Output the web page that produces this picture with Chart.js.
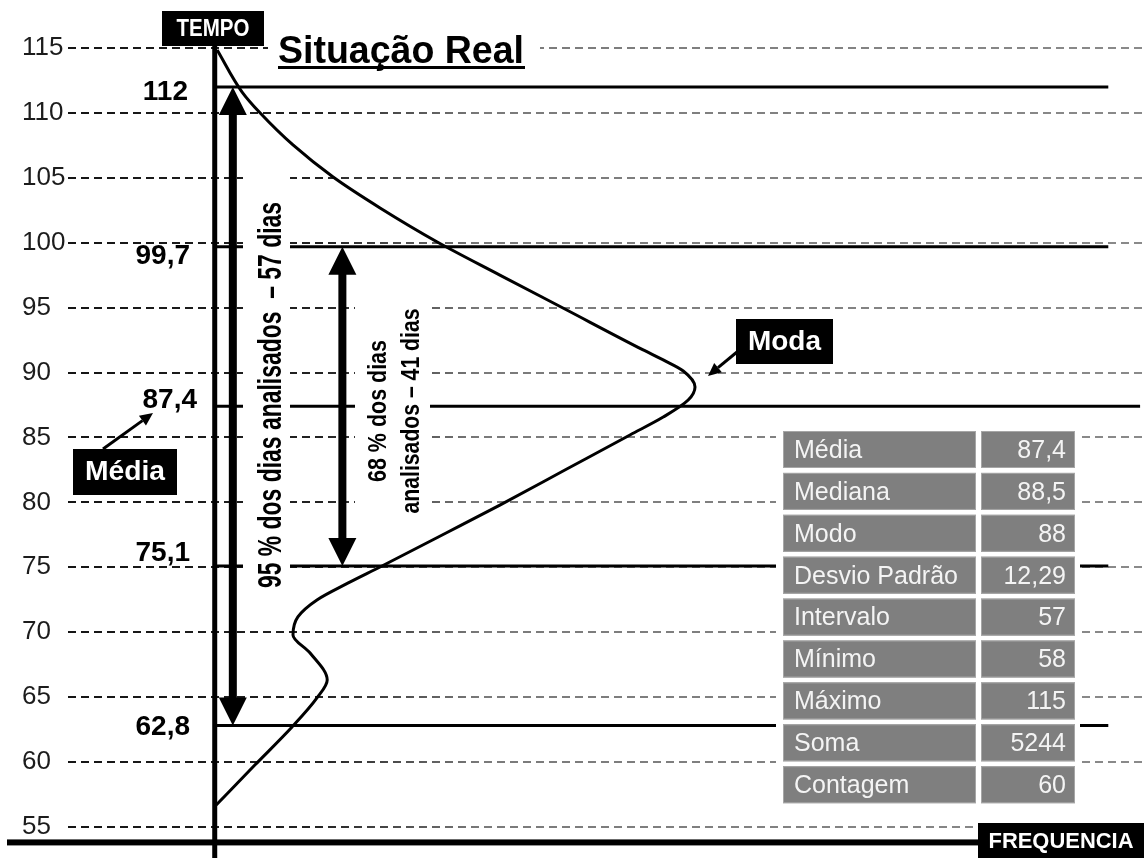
<!DOCTYPE html>
<html>
<head>
<meta charset="utf-8">
<title>Situação Real</title>
<script src="https://cdn.jsdelivr.net/npm/chart.js@4.4.1/dist/chart.umd.min.js"></script>
<style>
  html, body { margin: 0; padding: 0; background: #fff; }
  #chart { display: block; }
</style>
</head>
<body>
<canvas id="chart" width="1144" height="858"></canvas>
<script>
// eixo vertical (tempo)
const tempoTicks = [55, 60, 65, 70, 75, 80, 85, 90, 95, 100, 105, 110, 115];

// curva de frequencia (tempo x frequencia)
const curveTempo = [114.85, 111.61, 109.99, 107.53, 105.06, 102.68, 100.06, 97.51, 94.97, 91.74,
                    90.97, 90.12, 88.89, 87.88, 86.57, 85.19, 82.49, 79.79, 77.64, 75.02,
                    73.79, 72.48, 71.17, 69.78, 68.39, 66.31, 64.93, 62.69, 59.76, 56.68];
const curveFreq = [0.05, 0.56, 0.93, 1.60, 2.42, 3.38, 4.55, 5.83, 7.12, 8.76,
                   9.17, 9.58, 9.82, 9.68, 9.17, 8.49, 7.16, 5.83, 4.73, 3.38,
                   2.73, 2.09, 1.70, 1.60, 1.95, 2.30, 2.09, 1.58, 0.82, 0.03];

// linhas de referencia (media +/- desvios)
const statLevels = [112, 99.7, 87.4, 75.1, 62.8];
const statLabels = ['112', '99,7', '87,4', '75,1', '62,8'];

// tabela de estatisticas
const tableLabels = ['Média', 'Mediana', 'Modo', 'Desvio Padrão', 'Intervalo', 'Mínimo', 'Máximo', 'Soma', 'Contagem'];
const tableValues = ['87,4', '88,5', '88', '12,29', '57', '58', '115', '5244', '60'];

const FONT = 'Arial, "Liberation Sans", sans-serif';

// where each reference line stops (frequency units) and label tweaks
const lineEnd = [18.27, 18.27, 18.92, 18.27, 18.27];
const labelRight = [188, 190, 197, 190, 190];
const labelDy = [5, 10, -6, -13, 2];

let gridGrad = null;
function gridColor(c) {
    const chart = c.chart;
    if (!gridGrad) {
        gridGrad = chart.ctx.createLinearGradient(0, 0, chart.width, 0);
        gridGrad.addColorStop(0, '#111');
        gridGrad.addColorStop(0.28, '#222');
        gridGrad.addColorStop(0.42, '#7a7a7a');
        gridGrad.addColorStop(1, '#8a8a8a');
    }
    return gridGrad;
}

function fitText(ctx, text, x, y, width, align) {
    const w = ctx.measureText(text).width;
    ctx.save();
    ctx.translate(x, y);
    ctx.scale(width / w, 1);
    ctx.textAlign = align;
    ctx.fillText(text, 0, 0);
    ctx.restore();
}

function vertText(ctx, text, x, y, len, font) {
    ctx.save();
    ctx.font = font;
    ctx.translate(x, y);
    ctx.rotate(-Math.PI / 2);
    const w = ctx.measureText(text).width;
    ctx.scale(len / w, 1);
    ctx.textAlign = 'center';
    ctx.textBaseline = 'alphabetic';
    ctx.fillText(text, 0, 0);
    ctx.restore();
}

function labelBox(ctx, x, y, w, h, text, font, textW) {
    ctx.fillStyle = '#000';
    ctx.fillRect(x, y, w, h);
    ctx.fillStyle = '#fff';
    ctx.font = font;
    ctx.textBaseline = 'middle';
    fitText(ctx, text, x + w / 2, y + h / 2 + 1, textW, 'center');
}

function doubleArrow(ctx, x, top, bottom) {
    const shaft = 8, headW = 28, headL = 28;
    ctx.fillStyle = '#000';
    ctx.fillRect(x - shaft / 2, top + headL - 1, shaft, bottom - top - 2 * headL + 2);
    ctx.beginPath();
    ctx.moveTo(x, top);
    ctx.lineTo(x + headW / 2, top + headL);
    ctx.lineTo(x - headW / 2, top + headL);
    ctx.closePath();
    ctx.fill();
    ctx.beginPath();
    ctx.moveTo(x, bottom);
    ctx.lineTo(x + headW / 2, bottom - headL);
    ctx.lineTo(x - headW / 2, bottom - headL);
    ctx.closePath();
    ctx.fill();
}

function pointer(ctx, x1, y1, x2, y2) {
    const a = Math.atan2(y2 - y1, x2 - x1);
    const hl = 13, hw = 6;
    ctx.strokeStyle = '#000';
    ctx.lineWidth = 3;
    ctx.beginPath();
    ctx.moveTo(x1, y1);
    ctx.lineTo(x2 - Math.cos(a) * hl, y2 - Math.sin(a) * hl);
    ctx.stroke();
    ctx.fillStyle = '#000';
    ctx.beginPath();
    ctx.moveTo(x2, y2);
    ctx.lineTo(x2 - Math.cos(a) * hl - Math.sin(a) * hw, y2 - Math.sin(a) * hl + Math.cos(a) * hw);
    ctx.lineTo(x2 - Math.cos(a) * hl + Math.sin(a) * hw, y2 - Math.sin(a) * hl - Math.cos(a) * hw);
    ctx.closePath();
    ctx.fill();
}

// everything that sits on top of the curve and lines
const overlay = {
    id: 'overlay',
    afterDatasetsDraw(chart) {
        const {ctx, scales: {x, y}} = chart;
        ctx.save();

        // white patches behind texts / table
        ctx.fillStyle = '#fff';
        ctx.fillRect(268, 18, 272, 58);
        ctx.fillRect(243, 165, 47, 435);
        ctx.fillRect(355, 296, 75, 226);
        ctx.fillRect(776, 427, 304, 380);

        // axes
        const x0 = x.getPixelForValue(0);
        ctx.fillStyle = '#000';
        ctx.fillRect(x0 - 2.5, 44, 5, chart.height - 44);
        const yb = y.getPixelForValue(53.8);
        ctx.fillRect(7, yb - 3, 975, 6);

        // title
        ctx.fillStyle = '#000';
        ctx.font = 'bold 38px ' + FONT;
        ctx.textBaseline = 'alphabetic';
        fitText(ctx, 'Situação Real', 278, 63, 246, 'left');
        ctx.fillRect(278, 66, 247, 3);

        // value labels of the reference lines
        ctx.font = 'bold 28px ' + FONT;
        ctx.textBaseline = 'middle';
        ctx.textAlign = 'right';
        statLevels.forEach((v, i) => {
            ctx.fillText(statLabels[i], labelRight[i], y.getPixelForValue(v) + labelDy[i]);
        });

        // arrows 95% and 68%
        doubleArrow(ctx, x.getPixelForValue(0.37), y.getPixelForValue(statLevels[0]), y.getPixelForValue(statLevels[4]));
        doubleArrow(ctx, x.getPixelForValue(2.61), y.getPixelForValue(statLevels[1]), y.getPixelForValue(statLevels[3]));

        ctx.fillStyle = '#000';
        vertText(ctx, '95 % dos dias analisados  – 57 dias', 281, 395, 386, 'bold 33px ' + FONT);
        vertText(ctx, '68 % dos dias', 386, 411, 142, 'bold 26px ' + FONT);
        vertText(ctx, 'analisados – 41 dias', 419, 411, 205, 'bold 26px ' + FONT);

        // black labels
        labelBox(ctx, 162, 11, 102, 35, 'TEMPO', 'bold 23px ' + FONT, 73);
        labelBox(ctx, 978, 823, 166, 35, 'FREQUENCIA', 'bold 22px ' + FONT, 145);
        labelBox(ctx, 73, 449, 104, 46, 'Média', 'bold 27px ' + FONT, 80);
        labelBox(ctx, 736, 319, 97, 45, 'Moda', 'bold 28px ' + FONT, 73);
        pointer(ctx, 103, 449, 153, 413);
        pointer(ctx, 737, 352, 708, 376);

        // statistics table
        ctx.font = '25px ' + FONT;
        ctx.textBaseline = 'middle';
        tableLabels.forEach((lab, i) => {
            const top = 431 + i * 41.9;
            ctx.fillStyle = '#7f7f7f';
            ctx.fillRect(783, top, 193, 37);
            ctx.fillRect(981, top, 94, 37);
            ctx.strokeStyle = '#a6a6a6';
            ctx.lineWidth = 1;
            ctx.strokeRect(783.5, top + 0.5, 192, 36);
            ctx.strokeRect(981.5, top + 0.5, 93, 36);
            ctx.fillStyle = '#f4f4f4';
            ctx.textAlign = 'left';
            ctx.fillText(lab, 794, top + 20);
            ctx.textAlign = 'right';
            ctx.fillText(tableValues[i], 1066, top + 20);
        });

        ctx.restore();
    }
};

const datasets = [{
    data: curveFreq.map((f, i) => ({x: f, y: curveTempo[i]})),
    indexAxis: 'y',
    borderColor: '#000',
    borderWidth: 3,
    cubicInterpolationMode: 'monotone',
    pointRadius: 0,
    clip: false
}];
statLevels.forEach((v, i) => {
    datasets.push({
        data: [{x: -0.02, y: v}, {x: lineEnd[i], y: v}],
        borderColor: '#000',
        borderWidth: 3,
        tension: 0,
        pointRadius: 0,
        clip: false
    });
});

new Chart(document.getElementById('chart'), {
    type: 'line',
    data: {datasets: datasets},
    options: {
        responsive: false,
        animation: false,
        events: [],
        layout: {padding: {left: 22, right: 0, top: 0, bottom: 0}},
        plugins: {
            legend: {display: false},
            tooltip: {enabled: false},
            title: {display: false}
        },
        scales: {
            x: {
                type: 'linear',
                min: -3,
                max: 19,
                display: false
            },
            y: {
                type: 'linear',
                min: 52.6,
                max: 118.7,
                afterBuildTicks: (s) => { s.ticks = tempoTicks.map(v => ({value: v})); },
                afterFit: (s) => { s.width = 46; s.paddingTop = 0; s.paddingBottom = 0; },
                grid: {color: gridColor, lineWidth: 2, drawTicks: false},
                border: {display: false, dash: [8, 5]},
                ticks: {
                    crossAlign: 'far',
                    padding: 0,
                    color: '#1c1c1c',
                    font: {family: FONT, size: 26}
                }
            }
        }
    },
    plugins: [overlay]
});
</script>
</body>
</html>
